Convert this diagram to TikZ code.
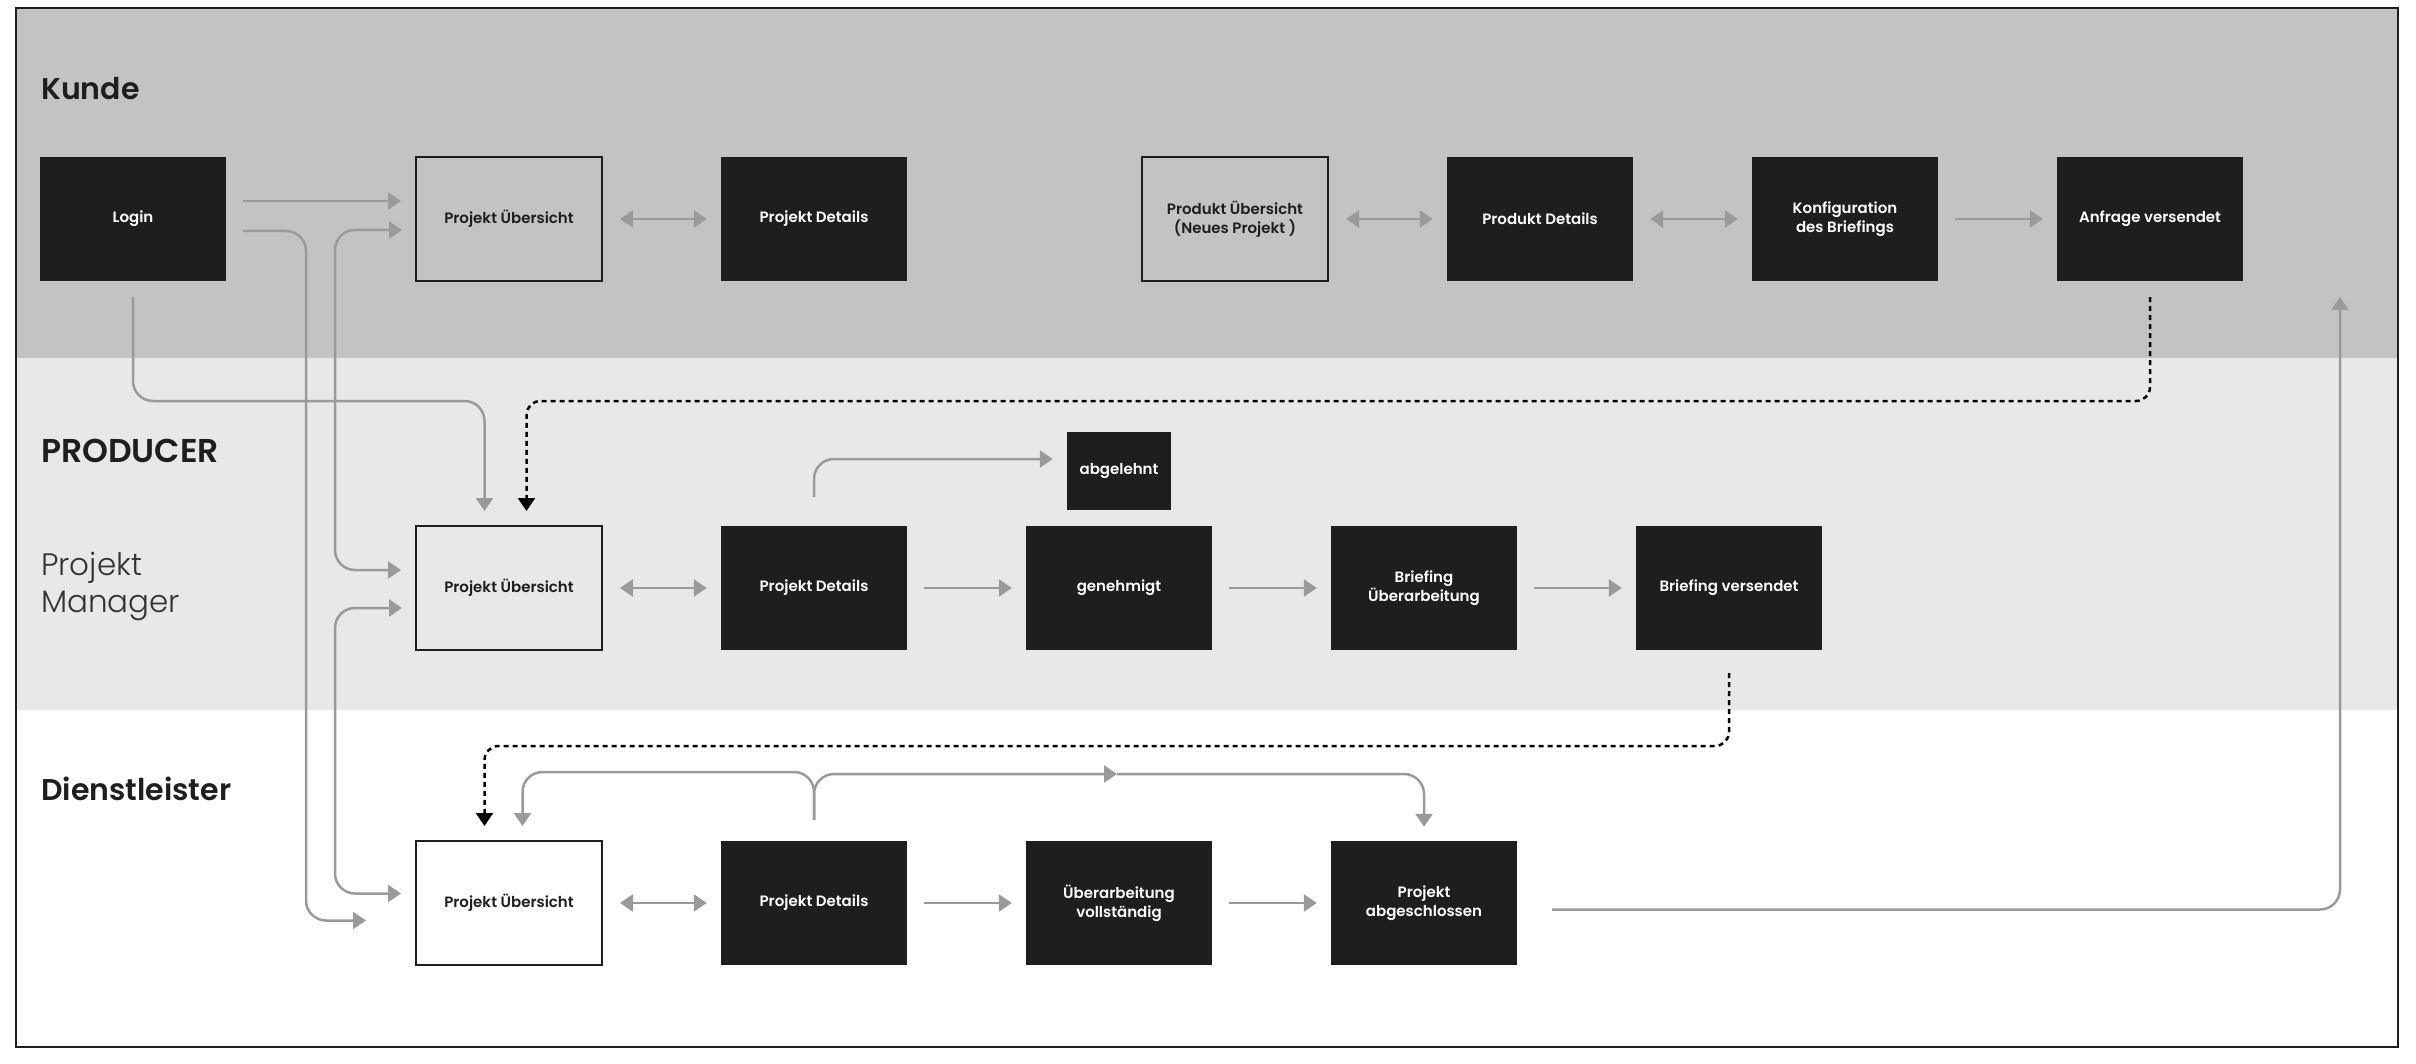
\documentclass[tikz,border=0pt]{standalone}
\usepackage{fontspec}
\setmainfont{Poppins}[BoldFont={* SemiBold}]
\newfontfamily\lightfont{Poppins Light}
\usetikzlibrary{arrows.meta}

\definecolor{kundegray}{HTML}{C3C3C3}
\definecolor{producergray}{HTML}{E8E8E8}
\definecolor{boxblack}{HTML}{1E1E1E}
\definecolor{linegray}{HTML}{9A9A9A}

\tikzset{every node/.style={shape=rectangle, inner sep=0pt, align=center, font=\fontsize{15}{19}\selectfont\bfseries}}
\tikzset{screen/.style={minimum width=186pt, minimum height=124pt, fill=boxblack, text=white}}
\tikzset{page/.style={minimum width=186pt, minimum height=124pt, draw=boxblack, line width=2pt, text=boxblack}}
\tikzset{lane/.style={anchor=west, align=left, font=\fontsize{30}{34}\selectfont\bfseries, text=boxblack}}
\tikzset{conn/.style={draw=linegray, line width=2.5pt, rounded corners=20pt, shorten >=14pt, shorten <=17pt}}
\tikzset{dashconn/.style={draw=black, line width=2.5pt, dash pattern=on 5pt off 4pt, rounded corners=14pt, shorten >=14pt, shorten <=16pt}}
\tikzset{every edge/.style={conn}}

\begin{document}
\begin{tikzpicture}[x=1pt, y=-1pt, node distance=305pt, >={Triangle[length=13pt,width=17pt]}]
  \useasboundingbox (0,0) rectangle (2416,1064);
  % lanes
  \fill[kundegray] (16,8) rectangle (2398,358);
  \fill[producergray] (16,358) rectangle (2398,710);
  \draw[boxblack, line width=2pt] (16,8) rectangle (2398,1047);

  \node[lane] (kunde) at (41,89) {Kunde};
  \node[lane, font=\fontsize{33}{37}\selectfont\bfseries] (producer) at (41,451) {PRODUCER};
  \node[lane, font=\fontsize{31}{37}\lightfont, text=black!80] (manager) at (41,586) {Projekt\\Manager};
  \node[lane] (dienst) at (41,789) {Dienstleister};

  % Kunde
  \node[screen] (login) at (133,219) {Login};
  \node[page] (kpu) [node distance=376pt, right of=login] {Projekt Übersicht};
  \node[screen] (kpd) [right of=kpu] {Projekt Details};
  \node[page] (kprodu) [node distance=421pt, right of=kpd] {Produkt Übersicht\\(Neues Projekt )};
  \node[screen] (kprodd) [right of=kprodu] {Produkt Details};
  \node[screen] (kkonf) [right of=kprodd] {Konfiguration\\des Briefings};
  \node[screen] (kanfrage) [right of=kkonf] {Anfrage versendet};

  % Producer
  \node[page] (ppu) [node distance=369pt, below of=kpu] {Projekt Übersicht};
  \node[screen] (ppd) [right of=ppu] {Projekt Details};
  \node[screen] (pgen) [right of=ppd] {genehmigt};
  \node[screen] (pbue) [right of=pgen] {Briefing\\Überarbeitung};
  \node[screen] (pbv) [right of=pbue] {Briefing versendet};
  \node[screen, minimum width=104pt, minimum height=78pt] (pabg) [node distance=117pt, above of=pgen] {abgelehnt};

  % Dienstleister
  \node[page] (dpu) [node distance=315pt, below of=ppu] {Projekt Übersicht};
  \node[screen] (dpd) [right of=dpu] {Projekt Details};
  \node[screen] (duv) [right of=dpd] {Überarbeitung\\vollständig};
  \node[screen] (dpab) [right of=duv] {Projekt\\abgeschlossen};

  \coordinate (dmid) at (1117,774);
  \coordinate (kback) at (2340,281);

  \path (kpu) edge[<->] (kpd);
  \path (kprodu) edge[<->] (kprodd);
  \path (kprodd) edge[<->] (kkonf);
  \path (kkonf) edge[->] (kanfrage);

  \path (ppu) edge[<->] (ppd);
  \path (ppd) edge[->] (pgen);
  \path (pgen) edge[->] (pbue);
  \path (pbue) edge[->] (pbv);

  \path (dpu) edge[<->] (dpd);
  \path (dpd) edge[->] (duv);
  \path (duv) edge[->] (dpab);

  \draw[conn, ->] ([yshift=18pt]login.east) -- ([yshift=18pt]kpu.west);
  \draw[conn, ->, shorten >=49pt] ([yshift=-12pt]login.east) -| ([xshift=-109pt, yshift=-17.5pt]dpu.west) -- ([yshift=-17.5pt]dpu.west);
  \draw[conn, ->, shorten <=16pt] (login.south) |- ([xshift=-24.5pt, yshift=124pt]ppu.north) -- ([xshift=-24.5pt]ppu.north);
  \draw[conn, <->, shorten <=13pt] ([yshift=-11pt]kpu.west) -| ([xshift=-80pt, yshift=18pt]ppu.west) -- ([yshift=18pt]ppu.west);
  \draw[conn, <->, shorten <=13pt] ([yshift=-20pt]ppu.west) -| ([xshift=-80pt, yshift=9.5pt]dpu.west) -- ([yshift=9.5pt]dpu.west);

  \draw[conn, ->, shorten <=29pt] (ppd.north) |- ([yshift=12pt]pabg.west);
  \draw[conn, ->, shorten <=21pt] (dpd.north) |- ([xshift=13.5pt, yshift=68pt]dpu.north) -- ([xshift=13.5pt]dpu.north);
  \draw[conn, ->, shorten <=21pt, shorten >=0pt] (dpd.north) |- (dmid);
  \draw[conn, ->, shorten <=0pt] (dmid) -| (dpab.north);
  \draw[conn, ->, shorten <=35pt, shorten >=16pt] ([yshift=-6.5pt]dpab.east) -| (kback);

  \draw[dashconn, ->] (kanfrage.south) |- ([xshift=17.5pt, yshift=124pt]ppu.north) -- ([xshift=17.5pt]ppu.north);
  \draw[dashconn, ->, shorten <=23pt] (pbv.south) |- ([xshift=-24.5pt, yshift=94pt]dpu.north) -- ([xshift=-24.5pt]dpu.north);
\end{tikzpicture}
\end{document}
